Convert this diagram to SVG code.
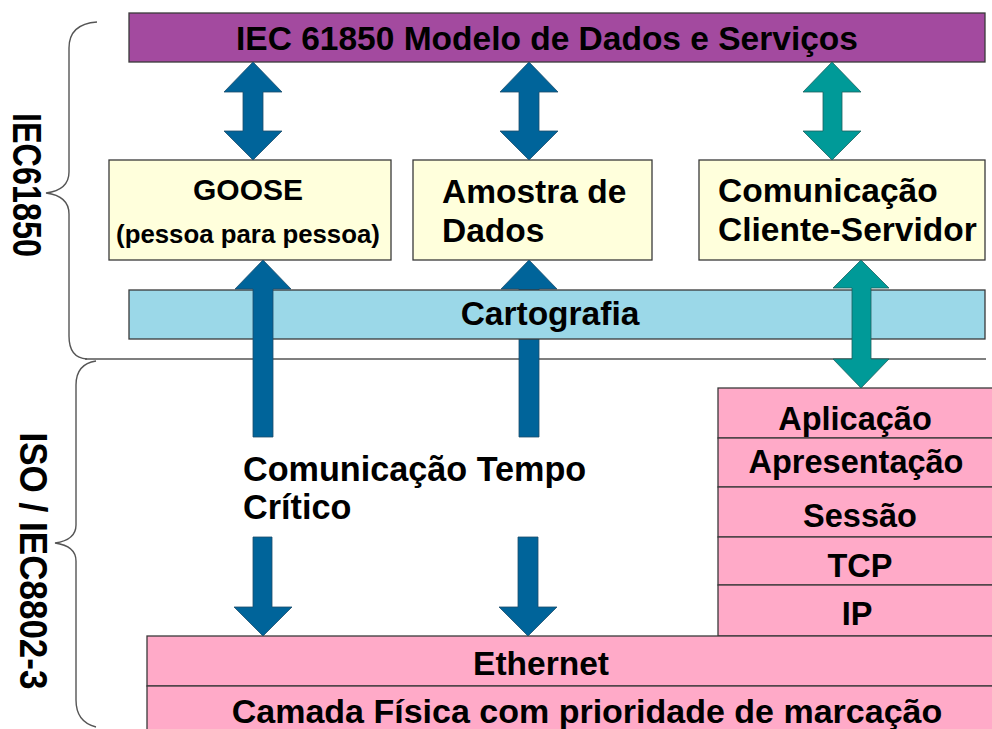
<svg xmlns="http://www.w3.org/2000/svg" width="992" height="729" viewBox="0 0 992 729">
  <style>
    text { font-family: "Liberation Sans", Arial, sans-serif; font-weight: bold; fill: #000; }
    .t33 { font-size: 33.5px; }
    .t30 { font-size: 32.5px; }
    .box { stroke: #3a3a3a; stroke-width: 1.3; }
    .purple { fill: #A34A9F; }
    .yellow { fill: #FFFFDC; }
    .cyan { fill: #9BD8E8; }
    .pink { fill: #FFAAC8; }
    .blue { fill: #00649A; stroke: #1d4d6b; stroke-width: 0.8; }
    .teal { fill: #009A98; stroke: #1d5f5e; stroke-width: 0.8; }
    .brace { fill: none; stroke: #555; stroke-width: 1.4; }
    .sep { stroke: #555; stroke-width: 1.4; fill: none; }
    .mid { text-anchor: middle; }
  </style>

  <!-- braces and separator -->
  <g id="braces">
    <path class="brace" d="M97,22 Q69,24 69,48 L69,172 Q69,190 46,193 Q69,196 69,214 L69,336 Q69,358 87,359"/>
    <path class="sep" d="M85,359 L986,359"/>
    <path class="brace" d="M96,361 Q76,364 76,385 L76,525 Q76,540 55,543 Q76,546 76,561 L76,700 Q76,722 96,727"/>
    <text class="mid" font-size="40" textLength="144" lengthAdjust="spacingAndGlyphs" transform="translate(13,185) rotate(90)">IEC61850</text>
    <text class="mid" font-size="38" textLength="257" lengthAdjust="spacingAndGlyphs" transform="translate(20,561) rotate(90)">ISO / IEC8802-3</text>
  </g>

  <g id="modelo">
    <rect class="box purple" x="129" y="13" width="856" height="49"/>
    <text class="t33 mid" x="547" y="50">IEC 61850 Modelo de Dados e Serviços</text>
  </g>

  <g id="goose">
    <rect class="box yellow" x="109" y="160" width="282" height="100"/>
    <text class="mid" font-size="30" x="248" y="200">GOOSE</text>
    <text class="mid" font-size="25.8" x="248" y="243">(pessoa para pessoa)</text>
  </g>

  <g id="amostra">
    <rect class="box yellow" x="413" y="160" width="239" height="100"/>
    <text class="t33" x="442" y="203">Amostra de</text>
    <text class="t33" x="442" y="242">Dados</text>
  </g>

  <g id="cliente-servidor">
    <rect class="box yellow" x="699" y="160" width="286" height="100"/>
    <text class="t33" x="718" y="202">Comunicação</text>
    <text class="t33" x="718" y="241">Cliente-Servidor</text>
  </g>

  <g id="connectors-behind">
    <!-- up arrow from time-critical into sampled values (behind Cartografia) -->
    <path class="blue" d="M529,260 L557,289 L539,289 L539,437 L519,437 L519,289 L501,289 Z"/>
  </g>

  <g id="cartografia">
    <rect class="box cyan" x="129" y="290" width="856" height="49"/>
    <text class="t33 mid" x="550" y="325">Cartografia</text>
  </g>

  <g id="osi-stack">
    <rect class="box pink" x="718" y="388" width="280" height="50"/>
    <rect class="box pink" x="718" y="438" width="280" height="49"/>
    <rect class="box pink" x="718" y="487" width="280" height="50"/>
    <rect class="box pink" x="718" y="537" width="280" height="48"/>
    <rect class="box pink" x="718" y="585" width="280" height="51"/>
    <text class="t30 mid" x="855" y="430">Aplicação</text>
    <text class="t30 mid" x="856" y="473">Apresentação</text>
    <text class="t30 mid" x="860" y="527">Sessão</text>
    <text class="t30 mid" x="860" y="577">TCP</text>
    <text class="t30 mid" x="857" y="625">IP</text>
  </g>

  <g id="ethernet">
    <rect class="box pink" x="147" y="636" width="851" height="50"/>
    <text class="t33 mid" x="541" y="675">Ethernet</text>
  </g>

  <g id="camada-fisica">
    <rect class="box pink" x="147" y="686" width="851" height="60"/>
    <text class="mid" font-size="34" x="587" y="723">Camada Física com prioridade de marcação</text>
  </g>

  <g id="tempo-critico">
    <text font-size="34.2" x="243" y="481">Comunicação Tempo</text>
    <text font-size="34.2" x="243" y="519">Crítico</text>
  </g>

  <g id="connectors">
    <!-- double arrows between model and boxes -->
    <path class="blue" d="M253,62 L282,92 L263,92 L263,131 L282,131 L253,160 L224,131 L243,131 L243,92 L224,92 Z"/>
    <path class="blue" d="M529,62 L558,92 L539,92 L539,131 L558,131 L529,160 L500,131 L519,131 L519,92 L500,92 Z"/>
    <path class="teal" d="M832,62 L861,92 L842,92 L842,131 L861,131 L832,160 L803,131 L823,131 L823,92 L803,92 Z"/>
    <!-- up arrow into GOOSE (over Cartografia) -->
    <path class="blue" d="M263,260 L291,289 L273,289 L273,437 L253,437 L253,289 L235,289 Z"/>
    <!-- down arrows to Ethernet -->
    <path class="blue" d="M253,537 L272,537 L272,607 L292,607 L263,636 L234,607 L253,607 Z"/>
    <path class="blue" d="M518,537 L538,537 L538,607 L557,607 L528,636 L499,607 L518,607 Z"/>
    <!-- teal double arrow client-server to stack -->
    <path class="teal" d="M861,260 L889,288 L871,288 L871,359 L889,359 L861,388 L833,359 L852,359 L852,288 L833,288 Z"/>
  </g>
</svg>
